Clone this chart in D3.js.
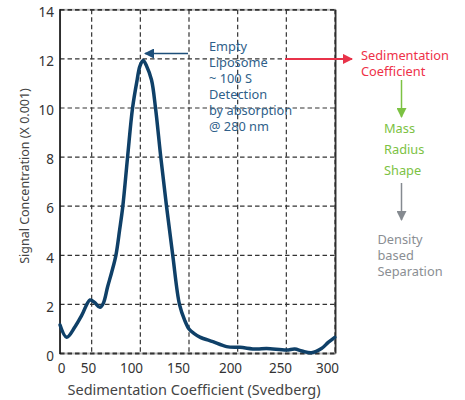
<!DOCTYPE html>
<html><head><meta charset="utf-8">
<script src="https://cdn.jsdelivr.net/npm/d3@7"></script>
<style>
body{margin:0;background:#fff;}
svg{font-family:"Noto Sans",sans-serif;}
</style></head>
<body><svg id="c" width="465" height="400"></svg>
<script>
// ---- data ----
const sed = [17.5,24.3,32.9,40,48.3,53,58.5,62,66.4,70.5,74.9,78.7,82,86.9,92,96.7,99.5,102.9,106.5,111.5,115.6,121,126.9,133.3,140.2,145.6,150,155,161.2,174.5,188.6,202.3,219.4,229.7,250.2,258.7,266,275.9,286.1,293,299.8];
const signal = [1.16,0.66,1.09,1.57,2.18,2.08,1.88,2.05,2.72,3.3,4.0,5.03,6,8,10,11.14,11.7,11.93,11.7,11.14,10,8,6,4,2,1.35,1.0,0.82,0.67,0.48,0.28,0.25,0.18,0.2,0.14,0.18,0.1,0.03,0.2,0.45,0.66];
const xTickLabels = [0,50,100,150,200,250,300];
const xGrid = [50,100,150,200,250,300];
const yTicks = [0,2,4,6,8,10,12,14];
const annotation = ["Empty","Liposome","~ 100 S","Detection","by absorption","@ 280 nm"];
const sideRed = ["Sedimentation","Coefficient"];
const sideGreen = ["Mass","Radius","Shape"];
const sideGray = ["Density","based","Separation"];

const svg = d3.select("#c");
const x = d3.scaleLinear().domain([0,300]).range([43,335]);
const xMin = 17.5;
const y = d3.scaleLinear().domain([0,14]).range([353.5,9.8]);
const xLab = d3.scaleLinear().domain(xTickLabels).range([61,88,131,178,230,280,327]);

const defs = svg.append("defs");
function marker(id,color){
  defs.append("marker").attr("id",id).attr("viewBox","0 0 10 10").attr("refX",9).attr("refY",5)
    .attr("markerWidth",10).attr("markerHeight",10).attr("markerUnits","userSpaceOnUse").attr("orient","auto")
    .append("path").attr("d","M0,0 L10,5 L0,10 Z").attr("fill",color);
}
marker("mBlue","#1d4f7a"); marker("mRed","#e8334a"); marker("mGreen","#7cc243"); marker("mGray","#858a90");

const L = x(xMin), R = x(300), T = y(14), B = y(0);

svg.append("rect").attr("x",L).attr("y",T).attr("width",R-L).attr("height",B-T)
  .attr("fill","none").attr("stroke","#bbb").attr("stroke-width",2);

const dash = "4.5,3";
svg.append("g").selectAll("line").data(xGrid).join("line")
  .attr("x1",d=>x(d)).attr("x2",d=>x(d)).attr("y1",T).attr("y2",B)
  .attr("stroke","#333").attr("stroke-width",1.2).attr("stroke-dasharray",dash);
svg.append("g").selectAll("line").data(yTicks).join("line")
  .attr("x1",L).attr("x2",R).attr("y1",d=>y(d)).attr("y2",d=>y(d))
  .attr("stroke","#333").attr("stroke-width",d=>(d===0||d===14)?1.8:1.2).attr("stroke-dasharray",dash);

svg.append("line").attr("x1",L).attr("x2",L).attr("y1",T-0.5).attr("y2",B+0.5).attr("stroke","#111").attr("stroke-width",1.6);
svg.append("line").attr("x1",R+0.8).attr("x2",R+0.8).attr("y1",T).attr("y2",B).attr("stroke","#222").attr("stroke-width",1.3);

const yAxis = d3.axisLeft(y).tickValues(yTicks).tickSize(0).tickPadding(6);
const gy = svg.append("g").attr("transform",`translate(${L},0)`).call(yAxis);
gy.select(".domain").remove();
gy.selectAll("text").attr("font-size",13.5).attr("fill","#333").attr("font-family","Noto Sans").attr("dy","0.5em");

const xAxis = d3.axisBottom(xLab).tickValues(xTickLabels).tickSize(0).tickPadding(0);
const gx = svg.append("g").attr("transform",`translate(0,363)`).call(xAxis);
gx.select(".domain").remove();
gx.selectAll("text").attr("font-size",13.5).attr("fill","#333").attr("font-family","Noto Sans");

svg.append("text").attr("x",194).attr("y",395).attr("text-anchor","middle")
  .attr("font-size",14.5).attr("fill","#444").text("Sedimentation Coefficient (Svedberg)");
svg.append("text").attr("transform","translate(29,176) rotate(-90)").attr("text-anchor","middle")
  .attr("font-size",12.5).attr("fill","#444").text("Signal Concentration (X 0.001)");

const pts = sed.map((s,i)=>[s,signal[i]]);
svg.append("path").datum(pts)
  .attr("d",d3.line().x(d=>x(d[0])).y(d=>y(d[1])).curve(d3.curveCatmullRom.alpha(0.5)))
  .attr("fill","none").attr("stroke","#0f4068").attr("stroke-width",3.5).attr("stroke-linecap","round").attr("stroke-linejoin","round");

svg.append("line").attr("x1",188).attr("x2",145).attr("y1",53.5).attr("y2",53.5)
  .attr("stroke","#1d4f7a").attr("stroke-width",1.5).attr("marker-end","url(#mBlue)");
svg.append("g").selectAll("text").data(annotation).join("text")
  .attr("x",209).attr("y",(d,i)=>51+i*16).attr("font-size",12.8).attr("fill","#2f5f8a").text(d=>d);

svg.append("line").attr("x1",285).attr("x2",352).attr("y1",y(12)).attr("y2",y(12))
  .attr("stroke","#e8334a").attr("stroke-width",2).attr("marker-end","url(#mRed)");
svg.append("g").selectAll("text").data(sideRed).join("text")
  .attr("x",361).attr("y",(d,i)=>60+i*15.5).attr("font-size",12.8).attr("fill","#ee3148").text(d=>d);
svg.append("line").attr("x1",401.5).attr("x2",401.5).attr("y1",80).attr("y2",117)
  .attr("stroke","#7cc243").attr("stroke-width",1.5).attr("marker-end","url(#mGreen)");
svg.append("g").selectAll("text").data(sideGreen).join("text")
  .attr("x",384).attr("y",(d,i)=>133+i*21).attr("font-size",12.8).attr("fill","#7cc243").text(d=>d);
svg.append("line").attr("x1",401.5).attr("x2",401.5).attr("y1",183).attr("y2",220)
  .attr("stroke","#858a90").attr("stroke-width",1.5).attr("marker-end","url(#mGray)");
svg.append("g").selectAll("text").data(sideGray).join("text")
  .attr("x",377.5).attr("y",(d,i)=>244+i*16).attr("font-size",12.8).attr("fill","#8a8e93").text(d=>d);
</script></body></html>
